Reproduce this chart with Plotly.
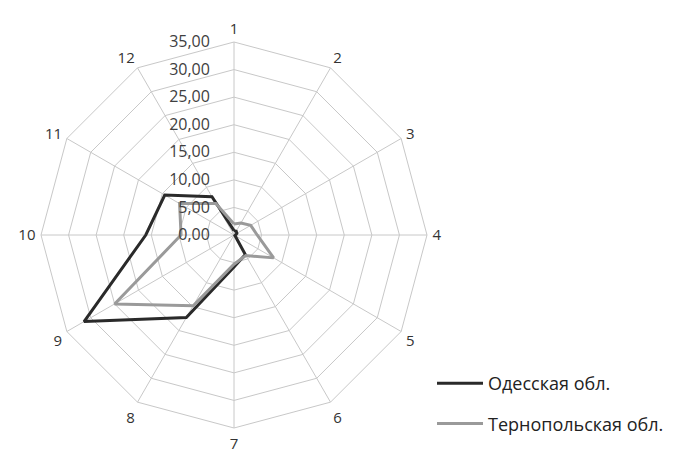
import plotly.graph_objects as go

categories = ["1", "2", "3", "4", "5", "6", "7", "8", "9", "10", "11", "12"]
odessa = [0.8, 0.8, 0.6, 0.3, 0.2, 4.1, 5.8, 17.3, 31.4, 16.0, 14.5, 8.0]
ternopil = [2.0, 2.5, 3.5, 4.2, 8.3, 4.3, 5.3, 14.8, 25.0, 9.6, 11.4, 6.6]
series_names = ["Одесская обл.", "Тернопольская обл."]
tick_vals = [0, 5, 10, 15, 20, 25, 30, 35]
tick_text = ["0,00", "5,00", "10,00", "15,00", "20,00", "25,00", "30,00", "35,00"]

W, H = 679, 455
OFF = 8  # page body margin
cx, cy, R = 234 - OFF, 235 - OFF, 193

fig = go.Figure()
for name, vals, color, grp in [(series_names[0], odessa, "#2a2a2a", "a"),
                               (series_names[1], ternopil, "#9a9a9a", "b")]:
    fig.add_trace(go.Scatterpolar(
        r=vals + vals[:1], theta=categories + categories[:1],
        mode="lines", name=name, line=dict(color=color, width=3),
        legendgroup=grp,
    ))

fig.update_layout(
    width=W, height=H,
    margin=dict(l=0, r=0, t=0, b=0),
    paper_bgcolor="white", plot_bgcolor="white",
    font=dict(family="Open Sans, sans-serif", color="#333333", size=15),
    polar=dict(
        domain=dict(x=[(cx - R) / W, (cx + R) / W],
                    y=[(H - cy - R) / H, (H - cy + R) / H]),
        bgcolor="white",
        gridshape="linear",
        radialaxis=dict(range=[0, 35], tickvals=tick_vals, ticktext=tick_text,
                        angle=90, tickangle=90, side="counterclockwise",
                        showline=False, gridcolor="#c8c8c8", gridwidth=1,
                        ticks="outside", ticklen=18, tickcolor="rgba(0,0,0,0)",
                        tickfont=dict(size=16, color="#404040")),
        angularaxis=dict(direction="clockwise", rotation=90,
                         gridcolor="#c8c8c8", linecolor="#c8c8c8", linewidth=1,
                         showline=True, ticks="outside", ticklen=2,
                         tickcolor="rgba(0,0,0,0)",
                         tickfont=dict(size=15, color="#333333")),
    ),
    legend=dict(x=(432 - OFF) / W, y=(H - (365 - OFF)) / H, xanchor="left", yanchor="top",
                font=dict(size=18, color="#222222"), tracegroupgap=14,
                itemwidth=46, bgcolor="rgba(0,0,0,0)"),
)

fig.write_html("out.html")
